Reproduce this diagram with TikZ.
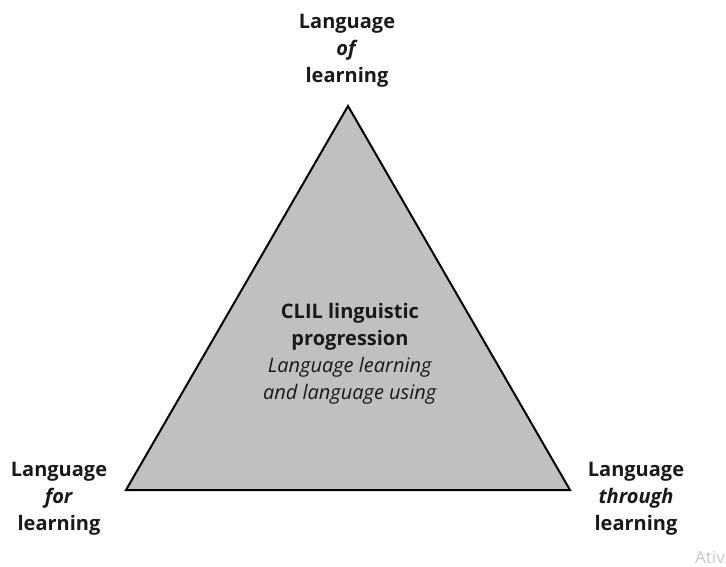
\documentclass[tikz,border=0pt]{standalone}
\usepackage{fontspec}
\setmainfont{Open Sans}
\definecolor{trifill}{RGB}{192,192,192}
\definecolor{wmark}{RGB}{200,200,200}
\tikzset{
  lbl/.style={align=center, font=\fontsize{20}{27}\selectfont, inner sep=0pt, text=black!90},
  tri/.style={draw=black, line width=2pt, fill=trifill, line join=miter}
}
\begin{document}
\begin{tikzpicture}[x=1pt,y=-1pt]
\useasboundingbox (0,0) rectangle (726,566);
\coordinate (apex) at (348,106);
\coordinate (bl) at (126,490);
\coordinate (br) at (570,490);
\draw[tri] (apex) -- (bl) -- (br) -- cycle;
\node[lbl] (top) at (347,51) {\textbf{Language}\\\textbf{\textit{of}}\\\textbf{learning}};
\node[lbl] (left) at (59,499) {\textbf{Language}\\\textbf{\textit{for}}\\\textbf{learning}};
\node[lbl] (right) at (636,499) {\textbf{Language}\\\textbf{\textit{through}}\\\textbf{learning}};
\node[lbl] (center) at (350,354) {\textbf{CLIL linguistic}\\\textbf{progression}\\\textit{Language learning}\\\textit{and language using}};
\node[anchor=east, text=wmark, font=\fontsize{17}{17}\selectfont, inner sep=0pt] (wm) at (725,557) {Ativ};
\end{tikzpicture}
\end{document}
